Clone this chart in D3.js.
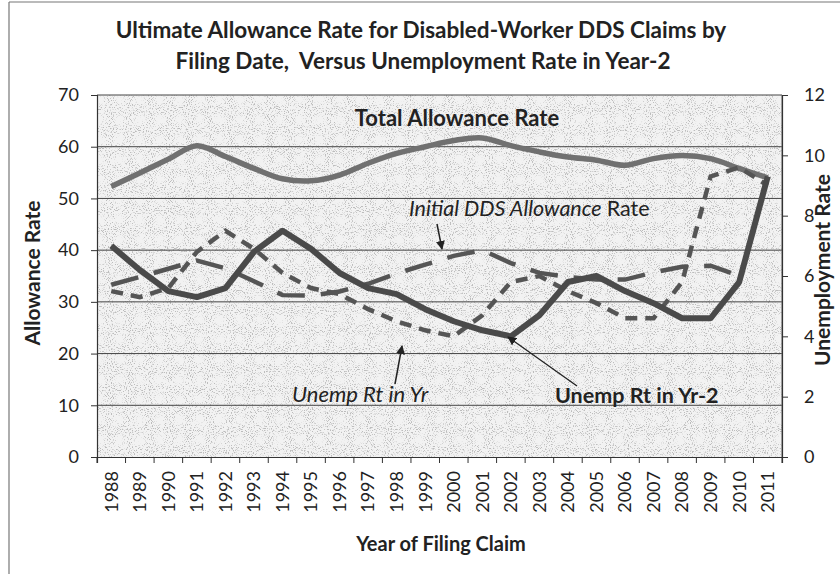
<!DOCTYPE html>
<html>
<head>
<meta charset="utf-8">
<script src="https://cdn.jsdelivr.net/npm/d3@7"></script>
<style>
  html, body { margin: 0; padding: 0; background: #fff; }
  svg { display: block; font-family: Lato, "Open Sans", sans-serif; }
</style>
</head>
<body>
<svg id="chart" width="840" height="574"></svg>
<script>
// Filing years (category axis)
const years = ["1988","1989","1990","1991","1992","1993","1994","1995","1996","1997","1998","1999",
               "2000","2001","2002","2003","2004","2005","2006","2007","2008","2009","2010","2011"];

// Ultimate (total) allowance rate, percent — left axis
const totalRate = [52.3, 54.9, 57.6, 60.2, 58.1, 55.8, 53.8, 53.4, 54.5, 56.8, 58.7, 60.0,
                   61.2, 61.7, 60.2, 59.0, 58.0, 57.4, 56.4, 57.7, 58.3, 57.7, 55.8, 54.0];

// Initial DDS allowance rate, percent — left axis
const ddsRate = [33.3, 34.8, 36.4, 38.0, 36.5, 34.0, 31.3, 31.2, 32.0, 33.5, 35.5, 37.2,
                 38.9, 40.0, 37.5, 35.6, 34.8, 34.3, 34.3, 35.7, 36.8, 37.0, 35.0, null];

// Unemployment rate in the filing year — right axis
const unempYr = [5.5, 5.3, 5.6, 6.8, 7.5, 6.9, 6.1, 5.6, 5.4, 4.9, 4.5, 4.2,
                 4.0, 4.7, 5.8, 6.0, 5.5, 5.1, 4.6, 4.6, 5.8, 9.3, 9.6, 9.0];

// Unemployment rate two years before filing — right axis
const unempYr2 = [7.0, 6.2, 5.5, 5.3, 5.6, 6.8, 7.5, 6.9, 6.1, 5.6, 5.4, 4.9,
                  4.5, 4.2, 4.0, 4.7, 5.8, 6.0, 5.5, 5.1, 4.6, 4.6, 5.8, 9.3];

const leftTicks = [0, 10, 20, 30, 40, 50, 60, 70];
const rightTicks = [0, 2, 4, 6, 8, 10, 12];

const svg = d3.select("#chart");
const plot = { left: 97, right: 782, top: 95, bottom: 457 };

const x = d3.scaleBand().domain(years).range([plot.left, plot.right]).paddingInner(0).paddingOuter(0);
const cx = d => x(d) + x.bandwidth() / 2;
const yL = d3.scaleLinear().domain([0, 70]).range([plot.bottom, plot.top]);
const yR = d3.scaleLinear().domain([0, 12]).range([plot.bottom, plot.top]);

// textured plot-area fill
const defs = svg.append("defs");
const f = defs.append("filter").attr("id", "grain").attr("x", 0).attr("y", 0).attr("width", 1).attr("height", 1);
f.append("feTurbulence").attr("type", "fractalNoise").attr("baseFrequency", 0.95).attr("numOctaves", 1).attr("seed", 7).attr("result", "n");
f.append("feColorMatrix").attr("in", "n").attr("type", "matrix")
  .attr("values", "0 0 0 0 0.5  0 0 0 0 0.5  0 0 0 0 0.5  7 0 0 0 -3.85");
defs.append("marker").attr("id", "arrow").attr("viewBox", "0 0 10 10").attr("refX", 9).attr("refY", 5)
  .attr("markerWidth", 9).attr("markerHeight", 9).attr("orient", "auto-start-reverse")
  .attr("markerUnits", "userSpaceOnUse")
  .append("path").attr("d", "M0,0 L10,5 L0,10 z").attr("fill", "#222");

// page frame (left and top edges)
svg.append("line").attr("x1", 9).attr("x2", 9).attr("y1", 2).attr("y2", 574).attr("stroke", "#777").attr("stroke-width", 1.2);
svg.append("line").attr("x1", 9).attr("x2", 840).attr("y1", 2).attr("y2", 2).attr("stroke", "#777").attr("stroke-width", 1.2);

svg.append("rect").attr("x", plot.left).attr("y", plot.top)
  .attr("width", plot.right - plot.left).attr("height", plot.bottom - plot.top).attr("fill", "#f2f2f2");
svg.append("rect").attr("x", plot.left).attr("y", plot.top)
  .attr("width", plot.right - plot.left).attr("height", plot.bottom - plot.top).attr("filter", "url(#grain)");

// gridlines
svg.append("g").selectAll("line").data(leftTicks.slice(1)).join("line")
  .attr("x1", plot.left).attr("x2", plot.right)
  .attr("y1", d => yL(d)).attr("y2", d => yL(d))
  .attr("stroke", "#444").attr("stroke-width", 1);
svg.append("line").attr("x1", plot.right).attr("x2", plot.right).attr("y1", plot.top).attr("y2", plot.bottom)
  .attr("stroke", "#666").attr("stroke-width", 1);

// axes
const axisL = svg.append("g").attr("transform", `translate(${plot.left},0)`)
  .call(d3.axisLeft(yL).tickValues(leftTicks).tickSize(6).tickPadding(12));
const axisR = svg.append("g").attr("transform", `translate(${plot.right},0)`)
  .call(d3.axisRight(yR).tickValues(rightTicks).tickSize(6).tickPadding(16));
const axisB = svg.append("g").attr("transform", `translate(0,${plot.bottom})`)
  .call(d3.axisBottom(x).tickSize(6).tickPadding(10));
// category ticks sit on band boundaries
axisB.selectAll(".tick line").attr("transform", `translate(${-x.bandwidth() / 2},0)`);
axisB.append("line").attr("x1", plot.right).attr("x2", plot.right).attr("y1", 0).attr("y2", 6).attr("stroke", "#333");

[axisL, axisR, axisB].forEach(a => {
  a.select(".domain").attr("stroke", "#333").attr("stroke-width", 1.2);
  a.selectAll(".tick line").attr("stroke", "#333");
  a.selectAll("text").attr("fill", "#222").attr("font-family", "Lato, sans-serif").attr("font-size", 18);
});
axisB.selectAll("text")
  .attr("transform", "rotate(-90)").attr("text-anchor", "end")
  .attr("dy", "0.35em").attr("y", 0).attr("x", -14);

// series lines
const lineL = d3.line().defined(d => d != null).x((d, i) => cx(years[i])).y(d => yL(d));
const lineLsmooth = d3.line().x((d, i) => cx(years[i])).y(d => yL(d)).curve(d3.curveCatmullRom.alpha(0.5));
const lineR = d3.line().x((d, i) => cx(years[i])).y(d => yR(d));

svg.append("path").datum(totalRate).attr("d", lineLsmooth)
  .attr("fill", "none").attr("stroke", "#707070").attr("stroke-width", 5.5).attr("stroke-linejoin", "round");
svg.append("path").datum(ddsRate).attr("d", lineL)
  .attr("fill", "none").attr("stroke", "#555").attr("stroke-width", 4.5).attr("stroke-dasharray", "28,16");
svg.append("path").datum(unempYr).attr("d", lineR)
  .attr("fill", "none").attr("stroke", "#555").attr("stroke-width", 4.5).attr("stroke-dasharray", "12,8");
svg.append("path").datum(unempYr2).attr("d", lineR)
  .attr("fill", "none").attr("stroke", "#4a4a4a").attr("stroke-width", 6).attr("stroke-linejoin", "round");

// title
const title = svg.append("text").attr("text-anchor", "middle").attr("font-weight", "bold")
  .attr("font-size", 22.5).attr("fill", "#222").style("white-space", "pre");
title.append("tspan").attr("x", 421).attr("y", 38).text("Ultimate Allowance Rate for Disabled-Worker DDS Claims by");
title.append("tspan").attr("x", 423).attr("y", 69).text("Filing Date,  Versus Unemployment Rate in Year-2");

// axis titles
svg.append("text").attr("transform", `translate(40,${(plot.top + plot.bottom) / 2 - 3}) rotate(-90)`)
  .attr("text-anchor", "middle").attr("font-weight", "bold").attr("font-size", 21).attr("fill", "#222")
  .text("Allowance Rate");
svg.append("text").attr("transform", `translate(830,${(plot.top + plot.bottom) / 2 - 6}) rotate(-90)`)
  .attr("text-anchor", "middle").attr("font-weight", "bold").attr("font-size", 21).attr("fill", "#222")
  .text("Unemployment Rate");
svg.append("text").attr("x", 441).attr("y", 551)
  .attr("text-anchor", "middle").attr("font-weight", "bold").attr("font-size", 20).attr("fill", "#222")
  .text("Year of Filing Claim");

// in-plot labels and pointers
svg.append("text").attr("x", 457).attr("y", 126).attr("text-anchor", "middle")
  .attr("font-weight", "bold").attr("font-size", 22).attr("fill", "#222").text("Total Allowance Rate");

const dl = svg.append("text").attr("x", 409).attr("y", 216).attr("font-size", 21.5).attr("fill", "#222");
dl.append("tspan").attr("font-style", "italic").text("Initial DDS Allowance ");
dl.append("tspan").text("Rate");
svg.append("line").attr("x1", 437).attr("y1", 224).attr("x2", 442).attr("y2", 249)
  .attr("stroke", "#222").attr("stroke-width", 1.5).attr("marker-end", "url(#arrow)");

svg.append("text").attr("x", 292).attr("y", 402).attr("font-style", "italic")
  .attr("font-size", 22).attr("fill", "#222").text("Unemp Rt in Yr");
svg.append("line").attr("x1", 395).attr("y1", 384).attr("x2", 402).attr("y2", 346)
  .attr("stroke", "#222").attr("stroke-width", 1.5).attr("marker-end", "url(#arrow)");

svg.append("text").attr("x", 555).attr("y", 403).attr("font-weight", "bold")
  .attr("font-size", 21.5).attr("fill", "#222").text("Unemp Rt in Yr-2");
svg.append("line").attr("x1", 577).attr("y1", 386).attr("x2", 508).attr("y2", 337)
  .attr("stroke", "#222").attr("stroke-width", 1.3).attr("marker-end", "url(#arrow)");
</script>
</body>
</html>
